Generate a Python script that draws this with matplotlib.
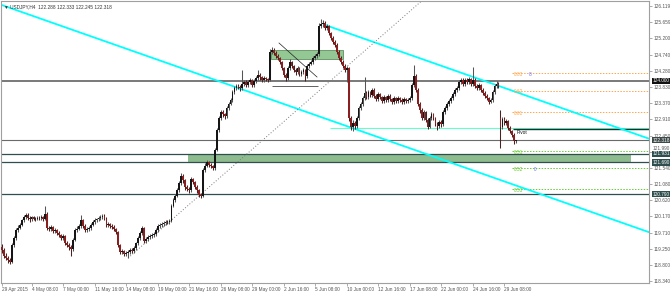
import matplotlib
matplotlib.use('Agg')
import matplotlib.pyplot as plt
import matplotlib.transforms as mtransforms
from matplotlib.patches import Rectangle
import numpy as np

plt.rcParams['font.family'] = ['Liberation Sans', 'DejaVu Sans']

# USDJPY H4 bars (bar index 0 = 29 Apr 2015 evening)
opens = [119.30, 119.21, 119.05, 118.99, 118.92, 118.87, 119.35, 119.55, 119.78, 119.85,
         119.92, 120.05, 120.15, 120.21, 120.12, 120.08, 120.14, 120.10, 120.09, 120.13,
         120.11, 120.15, 120.10, 120.24, 119.84, 119.80, 119.86, 119.75, 119.78, 119.70,
         119.64, 119.55, 119.60, 119.41, 119.35, 119.30, 119.25, 119.50, 119.78, 119.82,
         119.90, 120.06, 119.90, 119.78, 119.80, 119.84, 119.92, 120.01, 120.05, 120.08,
         120.12, 120.15, 120.18, 120.10, 119.92, 119.95, 119.90, 119.87, 119.80, 119.72,
         119.35, 119.15, 119.18, 119.10, 119.14, 119.15, 119.21, 119.18, 119.27, 119.40,
         119.55, 119.70, 119.84, 119.47, 119.52, 119.58, 119.61, 119.64, 119.67, 119.78,
         119.89, 119.92, 119.95, 119.98, 120.01, 120.00, 120.04, 120.47, 120.62, 120.75,
         120.90, 121.10, 121.30, 121.19, 120.99, 120.95, 120.90, 121.22, 121.13, 121.00,
         120.90, 120.77, 120.74, 121.47, 121.60, 121.70, 121.61, 121.58, 121.53, 122.04,
         122.60, 122.94, 123.11, 123.05, 122.99, 123.23, 123.35, 123.45, 123.68, 123.78,
         123.85, 123.82, 123.79, 123.90, 123.96, 123.88, 123.95, 124.02, 123.88, 123.98,
         124.07, 124.16, 124.10, 124.02, 124.07, 124.04, 124.02, 124.81, 124.87, 124.78,
         124.70, 124.64, 124.53, 124.35, 124.16, 124.07, 124.36, 124.53, 124.41, 124.30,
         124.24, 124.36, 124.19, 124.25, 124.30, 124.13, 124.41, 124.48, 124.53, 124.64,
         124.70, 124.75, 125.54, 125.60, 125.63, 125.49, 125.54, 125.34, 125.20, 125.09,
         125.01, 124.81, 124.64, 124.53, 124.41, 124.30, 124.36, 122.94, 122.69, 122.80,
         122.72, 122.94, 123.23, 123.34, 123.51, 123.65, 123.54, 123.68, 123.59, 123.74,
         123.57, 123.48, 123.62, 123.54, 123.42, 123.54, 123.45, 123.57, 123.48, 123.40,
         123.51, 123.42, 123.51, 123.45, 123.40, 123.48, 123.42, 123.45, 123.51, 123.88,
         124.13, 123.74, 123.34, 123.17, 122.94, 123.11, 122.89, 122.69, 122.94, 123.06,
         122.94, 122.77, 122.72, 122.83, 122.77, 123.11, 123.23, 123.34, 123.42, 123.51,
         123.62, 123.74, 123.79, 123.96, 124.02, 123.91, 124.02, 123.96, 124.04, 123.91,
         124.02, 123.85, 123.79, 123.88, 123.74, 123.65, 123.57, 123.51, 123.40, 123.45,
         123.68, 123.85, 123.91, 122.95, 122.70, 122.92, 122.80, 122.86, 122.66, 122.58,
         122.47, 122.288]
highs = [119.38, 119.27, 119.12, 119.04, 118.98, 119.40, 119.62, 119.84, 119.93, 119.98,
         120.10, 120.20, 120.27, 120.25, 120.17, 120.19, 120.18, 120.15, 120.18, 120.17,
         120.20, 120.19, 120.45, 120.30, 119.90, 119.92, 119.90, 119.84, 119.82, 119.75,
         119.68, 119.66, 119.64, 119.46, 119.40, 119.36, 119.56, 119.83, 119.88, 119.96,
         120.21, 120.10, 119.94, 119.86, 119.90, 119.97, 120.06, 120.11, 120.13, 120.18,
         120.20, 120.24, 120.22, 120.14, 120.01, 119.99, 119.95, 119.91, 119.84, 119.76,
         119.39, 119.24, 119.22, 119.20, 119.21, 119.27, 119.26, 119.32, 119.45, 119.60,
         119.76, 119.88, 119.87, 119.58, 119.63, 119.67, 119.70, 119.73, 119.83, 119.94,
         119.98, 120.01, 120.03, 120.07, 120.06, 120.09, 120.52, 120.68, 120.81, 120.96,
         121.16, 121.38, 121.35, 121.23, 121.05, 121.00, 121.27, 121.26, 121.17, 121.05,
         120.94, 120.82, 121.52, 121.66, 121.76, 121.74, 121.66, 121.63, 122.10, 122.66,
         123.00, 123.18, 123.16, 123.10, 123.28, 123.41, 123.51, 123.74, 123.84, 123.92,
         123.90, 123.87, 124.30, 124.03, 124.01, 124.01, 124.08, 124.06, 124.04, 124.13,
         124.30, 124.21, 124.14, 124.12, 124.11, 124.08, 124.90, 124.94, 124.92, 124.83,
         124.75, 124.68, 124.57, 124.39, 124.21, 124.41, 124.60, 124.57, 124.45, 124.35,
         124.42, 124.40, 124.31, 124.36, 124.34, 124.46, 124.54, 124.59, 124.70, 124.76,
         124.82, 125.62, 125.75, 125.72, 125.68, 125.60, 125.58, 125.39, 125.25, 125.14,
         125.06, 124.86, 124.69, 124.58, 124.46, 124.42, 124.40, 123.00, 122.88, 122.86,
         123.00, 123.28, 123.40, 123.57, 124.10, 123.70, 123.74, 123.72, 123.80, 123.78,
         123.62, 123.68, 123.66, 123.58, 123.60, 123.58, 123.63, 123.61, 123.52, 123.57,
         123.55, 123.57, 123.55, 123.50, 123.54, 123.52, 123.51, 123.57, 123.94, 124.44,
         124.18, 123.79, 123.39, 123.22, 123.17, 123.15, 122.94, 123.00, 123.12, 123.10,
         122.98, 122.82, 122.89, 122.88, 123.16, 123.29, 123.40, 123.48, 123.57, 123.68,
         123.80, 123.86, 124.02, 124.09, 124.07, 124.08, 124.07, 124.10, 124.09, 124.39,
         124.07, 123.90, 123.94, 123.92, 123.79, 123.70, 123.62, 123.55, 123.51, 123.74,
         123.91, 123.98, 123.95, 123.17, 122.98, 122.96, 122.92, 122.90, 122.71, 122.62,
         122.52, 122.333]
lows = [119.12, 118.98, 118.92, 118.86, 118.82, 118.84, 119.30, 119.50, 119.72, 119.80,
        119.88, 120.00, 120.10, 120.06, 120.02, 120.04, 120.05, 120.03, 120.05, 120.06,
        120.07, 120.04, 120.06, 119.79, 119.74, 119.76, 119.70, 119.70, 119.65, 119.58,
        119.49, 119.50, 119.36, 119.29, 119.22, 119.05, 119.20, 119.46, 119.72, 119.77,
        119.85, 119.85, 119.72, 119.73, 119.75, 119.79, 119.88, 119.96, 120.00, 120.03,
        120.07, 120.10, 120.05, 119.87, 119.87, 119.84, 119.81, 119.75, 119.66, 119.30,
        119.09, 119.10, 119.04, 119.05, 118.99, 119.10, 119.12, 119.13, 119.22, 119.36,
        119.50, 119.65, 119.42, 119.41, 119.47, 119.53, 119.56, 119.59, 119.62, 119.73,
        119.84, 119.87, 119.90, 119.93, 119.95, 119.95, 120.00, 120.42, 120.57, 120.70,
        120.86, 121.05, 121.12, 120.92, 120.88, 120.84, 120.86, 121.07, 120.94, 120.84,
        120.71, 120.68, 120.70, 121.42, 121.55, 121.55, 121.52, 121.47, 121.49, 122.00,
        122.55, 122.88, 122.98, 122.92, 122.95, 123.18, 123.30, 123.41, 123.62, 123.73,
        123.76, 123.72, 123.74, 123.85, 123.82, 123.83, 123.90, 123.82, 123.83, 123.93,
        124.02, 124.03, 123.96, 123.97, 123.98, 123.95, 123.98, 124.75, 124.72, 124.64,
        124.58, 124.47, 124.30, 124.10, 123.98, 124.02, 124.31, 124.35, 124.24, 124.17,
        124.19, 124.13, 124.14, 124.20, 123.98, 124.08, 124.36, 124.43, 124.48, 124.59,
        124.65, 124.70, 125.48, 125.52, 125.43, 125.43, 125.28, 125.14, 125.03, 124.95,
        124.75, 124.58, 124.47, 124.35, 124.24, 123.95, 122.85, 122.61, 122.58, 122.63,
        122.66, 122.90, 123.18, 123.29, 123.46, 123.48, 123.49, 123.53, 123.55, 123.51,
        123.42, 123.43, 123.48, 123.36, 123.37, 123.39, 123.40, 123.42, 123.34, 123.35,
        123.36, 123.37, 123.39, 123.34, 123.35, 123.36, 123.37, 123.40, 123.46, 123.83,
        123.68, 123.28, 123.10, 122.88, 122.89, 122.83, 122.63, 122.65, 122.90, 122.88,
        122.71, 122.61, 122.67, 122.70, 122.73, 123.06, 123.18, 123.29, 123.37, 123.46,
        123.57, 123.69, 123.74, 123.91, 123.85, 123.86, 123.90, 123.91, 123.85, 123.86,
        123.79, 123.73, 123.74, 123.68, 123.59, 123.51, 123.45, 123.34, 123.36, 123.41,
        123.63, 123.80, 123.79, 122.10, 122.64, 122.74, 122.75, 122.60, 122.52, 122.41,
        122.22, 122.245]
closes = [119.21, 119.05, 118.99, 118.92, 118.87, 119.35, 119.55, 119.78, 119.85, 119.92,
          120.05, 120.15, 120.21, 120.12, 120.08, 120.14, 120.10, 120.09, 120.13, 120.11,
          120.15, 120.10, 120.24, 119.84, 119.80, 119.86, 119.75, 119.78, 119.70, 119.64,
          119.55, 119.60, 119.41, 119.35, 119.30, 119.25, 119.50, 119.78, 119.82, 119.90,
          120.06, 119.90, 119.78, 119.80, 119.84, 119.92, 120.01, 120.05, 120.08, 120.12,
          120.15, 120.18, 120.10, 119.92, 119.95, 119.90, 119.87, 119.80, 119.72, 119.35,
          119.15, 119.18, 119.10, 119.14, 119.15, 119.21, 119.18, 119.27, 119.40, 119.55,
          119.70, 119.84, 119.47, 119.52, 119.58, 119.61, 119.64, 119.67, 119.78, 119.89,
          119.92, 119.95, 119.98, 120.01, 120.00, 120.04, 120.47, 120.62, 120.75, 120.90,
          121.10, 121.30, 121.19, 120.99, 120.95, 120.90, 121.22, 121.13, 121.00, 120.90,
          120.77, 120.74, 121.47, 121.60, 121.70, 121.61, 121.58, 121.53, 122.04, 122.60,
          122.94, 123.11, 123.05, 122.99, 123.23, 123.35, 123.45, 123.68, 123.78, 123.85,
          123.82, 123.79, 123.90, 123.96, 123.88, 123.95, 124.02, 123.88, 123.98, 124.07,
          124.16, 124.10, 124.02, 124.07, 124.04, 124.02, 124.81, 124.87, 124.78, 124.70,
          124.64, 124.53, 124.35, 124.16, 124.07, 124.36, 124.53, 124.41, 124.30, 124.24,
          124.36, 124.19, 124.25, 124.30, 124.13, 124.41, 124.48, 124.53, 124.64, 124.70,
          124.75, 125.54, 125.60, 125.63, 125.49, 125.54, 125.34, 125.20, 125.09, 125.01,
          124.81, 124.64, 124.53, 124.41, 124.30, 124.36, 122.94, 122.69, 122.80, 122.72,
          122.94, 123.23, 123.34, 123.51, 123.65, 123.54, 123.68, 123.59, 123.74, 123.57,
          123.48, 123.62, 123.54, 123.42, 123.54, 123.45, 123.57, 123.48, 123.40, 123.51,
          123.42, 123.51, 123.45, 123.40, 123.48, 123.42, 123.45, 123.51, 123.88, 124.13,
          123.74, 123.34, 123.17, 122.94, 123.11, 122.89, 122.69, 122.94, 123.06, 122.94,
          122.77, 122.72, 122.83, 122.77, 123.11, 123.23, 123.34, 123.42, 123.51, 123.62,
          123.74, 123.79, 123.96, 124.02, 123.91, 124.02, 123.96, 124.04, 123.91, 124.02,
          123.85, 123.79, 123.88, 123.74, 123.65, 123.57, 123.51, 123.40, 123.45, 123.68,
          123.85, 123.91, 123.85, 122.70, 122.92, 122.80, 122.86, 122.66, 122.58, 122.47,
          122.29, 122.318]

date_labels = ['29 Apr 2015', '4 May 08:00', '7 May 00:00', '11 May 16:00', '14 May 08:00',
               '19 May 00:00', '21 May 16:00', '26 May 08:00', '29 May 00:00', '2 Jun 16:00',
               '5 Jun 08:00', '10 Jun 00:00', '12 Jun 16:00', '17 Jun 08:00', '22 Jun 00:00',
               '24 Jun 16:00', '29 Jun 08:00']
date_pos = [0, 15, 31, 47, 63, 79, 95, 111, 127, 143, 159, 175, 191, 207, 223, 239, 255]

price_ticks = [126.119, 125.659, 125.200, 124.740, 124.280, 123.830, 123.370, 122.910, 122.450,
               121.990, 121.540, 121.080, 120.620, 120.170, 119.710, 119.250, 118.800, 118.340]
price_labels = ['126.119', '125.659', '125.200', '124.740', '124.280', '123.830', '123.370',
                '122.910', '122.450', '', '121.540', '121.080', '120.620', '120.170',
                '119.710', '119.250', '118.800', '118.340']
# this one sits right above the 121.931 box, drawn a little higher by hand
squeezed_label = ('121.990', 122.075)

# horizontal levels and boxed labels on the price scale
box_levels = [124.000, 122.318, 121.931, 121.690, 120.790]
box_texts = ['124.000', '122.318', '121.931', '121.690', '120.790']
box_colors = ['#111111', '#3e4a4a', '#2f4f4f', '#2f4f4f', '#2f4f4f']

pivot_level = 122.627
mint_level = 122.655
fib_orange = [124.209, 123.717, 123.107]
fib_green = [122.014, 121.525, 120.940]
fib_orange_txt = ['0.83', '0.62', '0.61']
fib_green_txt = ['0.51', '0.52', '0.53']

# channel lines (bar index, price)
lower_chan = ([-0.5, 328.4], [126.146, 119.719])
upper_chan = ([164, 328.4], [125.574, 122.361])
trend_dots = ([64, 240], [118.99, 127.57])

fig = plt.figure(figsize=(6.7, 2.92), dpi=100)
ax = fig.add_axes([1 / 670, 9 / 292, 648 / 670, 282 / 292])
ax.set_xlim(-0.5, 328.4)
ax.set_ylim(118.283, 126.252)

# zones
ax.add_patch(Rectangle((94.4, 121.690), 319.3 - 94.4, 121.931 - 121.690,
                       facecolor='#8fbc8f', edgecolor='none', zorder=1))
ax.add_patch(Rectangle((136.5, 124.627), 173.1 - 136.5, 124.881 - 124.627,
                       facecolor='#93c793', edgecolor='#5f8f5f', lw=0.6, zorder=1))

# horizontal lines
ax.axhline(124.000, color='#555555', lw=1.1, zorder=2)
ax.axhline(122.318, color='#6a6a6a', lw=0.8, zorder=2)
for lvl in [121.931, 121.690, 120.790]:
    ax.axhline(lvl, color='#2f4f4f', lw=0.9, zorder=2)
ax.hlines(mint_level, 166.5, 328.4, color='#66ffcc', lw=0.8, zorder=2)
ax.hlines(pivot_level, 259.4, 328.4, color='#1f2f2f', lw=1.0, zorder=2)
for lvl in fib_orange:
    ax.hlines(lvl, 258.9, 328.4, color='#ffa64d', lw=0.7, linestyles=(0, (1.5, 1.5)), zorder=2)
for lvl in fib_green:
    ax.hlines(lvl, 258.9, 328.4, color='#66cc33', lw=0.7, linestyles=(0, (1.5, 1.5)), zorder=2)

# trend lines
ax.plot(*lower_chan, color='#00ffff', lw=1.3, zorder=2)
ax.plot(*upper_chan, color='#00ffff', lw=1.3, zorder=2)
ax.plot(*trend_dots, color='#7a7a7a', lw=0.7, linestyle=(0, (1, 2)), zorder=2)
ax.plot([140.6, 159.9], [125.065, 124.104], color='#222222', lw=0.5, zorder=3)
ax.hlines(123.85, 137, 160.4, color='#222222', lw=0.5, zorder=3)

# candles
x = np.arange(len(closes))
o = np.array(opens)
h = np.array(highs)
l = np.array(lows)
c = np.array(closes)
up = c >= o
ax.vlines(x[up], l[up], h[up], color='#555555', lw=0.75, zorder=4)
ax.vlines(x[~up], l[~up], h[~up], color='#4a2222', lw=0.75, zorder=4)
body_lo = np.minimum(o, c)
body_h = np.maximum(np.abs(c - o), 0.015)
ax.bar(x[up], body_h[up], bottom=body_lo[up], width=0.9, color='#151515', lw=0, zorder=5)
ax.bar(x[~up], body_h[~up], bottom=body_lo[~up], width=0.9, color='#8b1e1e', lw=0, zorder=5)

# labels on the chart
for lvl, t in zip(fib_orange, fib_orange_txt):
    ax.text(260, lvl - 0.03, t, fontsize=3.4, color='#ffa64d', va='center', ha='left', zorder=6)
for lvl, t in zip(fib_green, fib_green_txt):
    ax.text(260, lvl - 0.03, t, fontsize=3.4, color='#66cc33', va='center', ha='left', zorder=6)
ax.text(267.5, fib_orange[0] - 0.03, '8', fontsize=3.4, color='#6a6aff', va='center', zorder=6)
ax.text(270, fib_green[1] - 0.03, '0', fontsize=3.4, color='#6a6aff', va='center', zorder=6)
ax.text(261.2, 122.55, 'Pivot', fontsize=3.4, color='#111111', va='center', ha='left', zorder=6)
ax.text(0.004, 0.988, '\u25bc USDJPY,H4  122.288 122.333 122.245 122.318', transform=ax.transAxes,
        fontsize=3.4, color='#333333', va='top', ha='left')

# axes
ax.yaxis.tick_right()
ax.set_yticks(price_ticks)
ax.set_yticklabels(price_labels)
ax.set_xticks(date_pos)
ax.set_xticklabels(date_labels)
for t in ax.get_xticklabels():
    t.set_ha('left')
ax.tick_params(axis='y', direction='out', length=2, width=0.5, pad=1.5, labelsize=3.4,
               colors='#8a8a8a', labelcolor='#555555')
ax.tick_params(axis='x', direction='out', length=2, width=0.5, pad=1, labelsize=3.4,
               colors='#8a8a8a', labelcolor='#555555')
for s in ax.spines.values():
    s.set_color('#a0a0a0')
    s.set_linewidth(0.8)

trans = mtransforms.blended_transform_factory(ax.transAxes, ax.transData)
ax.text(1.0055, squeezed_label[1], squeezed_label[0], transform=trans, ha='left', va='center',
        fontsize=3.4, color='#555555', clip_on=False)
for lvl, t, fc in zip(box_levels, box_texts, box_colors):
    ax.text(1.005, lvl, t, transform=trans, ha='left', va='center', fontsize=3.4, color='white',
            bbox=dict(boxstyle='square,pad=0.12', fc=fc, ec='none'), clip_on=False, zorder=7)

fig.savefig('out.png', dpi=100)
